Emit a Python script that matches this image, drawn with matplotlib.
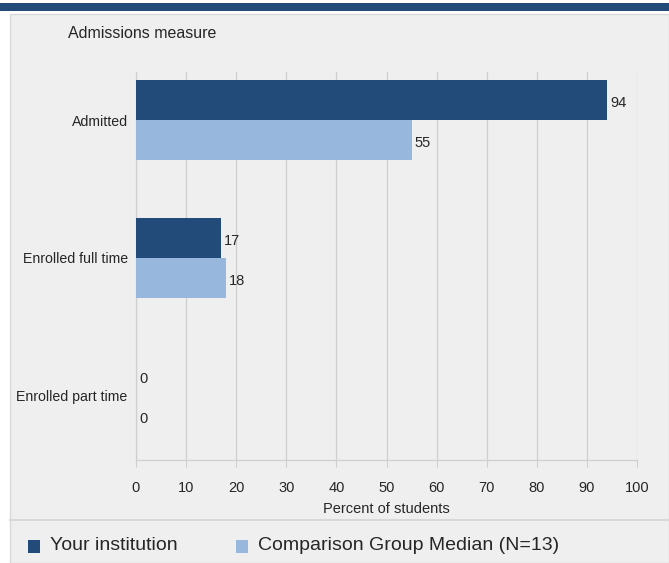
import matplotlib
matplotlib.use("Agg")
import matplotlib.pyplot as plt
from matplotlib.patches import Rectangle
from matplotlib.lines import Line2D
import numpy as np

categories = ["Admitted", "Enrolled full time", "Enrolled part time"]
your_institution = [94, 17, 0]
comparison_median = [55, 18, 0]
series_names = ["Your institution", "Comparison Group Median (N=13)"]
xticks = [0, 10, 20, 30, 40, 50, 60, 70, 80, 90, 100]

FONT = ["Liberation Sans Narrow", "Liberation Sans", "DejaVu Sans"]
plt.rcParams["font.family"] = FONT

DARK = "#234b79"
LIGHT = "#98b7dd"
PANEL = "#efefef"
GRIDC = "#cfcfcf"
TXT = "#262626"

W, H = 669, 563
fig = plt.figure(figsize=(W / 100, H / 100), dpi=100, facecolor="white")

def fx(px):
    return px / W

def fy(py):
    return 1 - py / H

# top band
fig.patches.append(Rectangle((0, fy(11)), 1, fy(3) - fy(11), transform=fig.transFigure,
                             facecolor=DARK, edgecolor="none", zorder=0))
# panel
fig.patches.append(Rectangle((fx(10), 0), 1 - fx(10), fy(14), transform=fig.transFigure,
                             facecolor=PANEL, edgecolor="#d9d9d9", linewidth=1, zorder=-1))
# separator
fig.lines.append(Line2D([fx(10), 1], [fy(520), fy(520)], transform=fig.transFigure,
                        color="#d4d4d4", linewidth=1.2))

ax = fig.add_axes([fx(136), fy(460), fx(637) - fx(136), fy(72) - fy(460)])
ax.set_zorder(5)
ax.set_facecolor("none")

y = np.arange(len(categories))
h = 0.29
ax.barh(y - h / 2, your_institution, height=h, color=DARK, zorder=3)
ax.barh(y + h / 2, comparison_median, height=h, color=LIGHT, zorder=3)

for yi, v in zip(y, your_institution):
    ax.text(v + 0.6, yi - h / 2 + 0.02, f"{v}", va="center", ha="left", fontsize=10.5, color=TXT)
for yi, v in zip(y, comparison_median):
    ax.text(v + 0.6, yi + h / 2 + 0.02, f"{v}", va="center", ha="left", fontsize=10.5, color=TXT)

ax.set_xlim(0, 100)
ax.set_ylim(2.464, -0.348)
ax.set_xticks(xticks)
ax.set_xticklabels([str(t) for t in xticks], fontsize=10.5, color=TXT)
ax.set_yticks(y)
ax.set_yticklabels(categories, fontsize=10.2, color=TXT)
ax.tick_params(axis="y", length=0, pad=6)
ax.tick_params(axis="x", length=5, color=GRIDC, pad=10)
ax.grid(axis="x", color=GRIDC, linewidth=0.9, zorder=0)
for s in ["top", "right"]:
    ax.spines[s].set_visible(False)
for s in ["left", "bottom"]:
    ax.spines[s].set_color(GRIDC)
    ax.spines[s].set_linewidth(0.9)

ax.set_xlabel("Percent of students", fontsize=10.5, color=TXT, labelpad=5)

fig.text(fx(68), fy(33), "Admissions measure", fontsize=11.5, color=TXT, va="center", ha="left")

# legend
for x0, name, col in [(28, series_names[0], DARK), (236, series_names[1], LIGHT)]:
    fig.patches.append(Rectangle((fx(x0), fy(553)), fx(12), fy(540) - fy(553),
                                 transform=fig.transFigure, facecolor=col, edgecolor="none"))
    fig.text(fx(x0 + 22), fy(546), name, fontsize=14, color=TXT, va="center", ha="left")

fig.savefig("out.png", dpi=100, facecolor="white")
